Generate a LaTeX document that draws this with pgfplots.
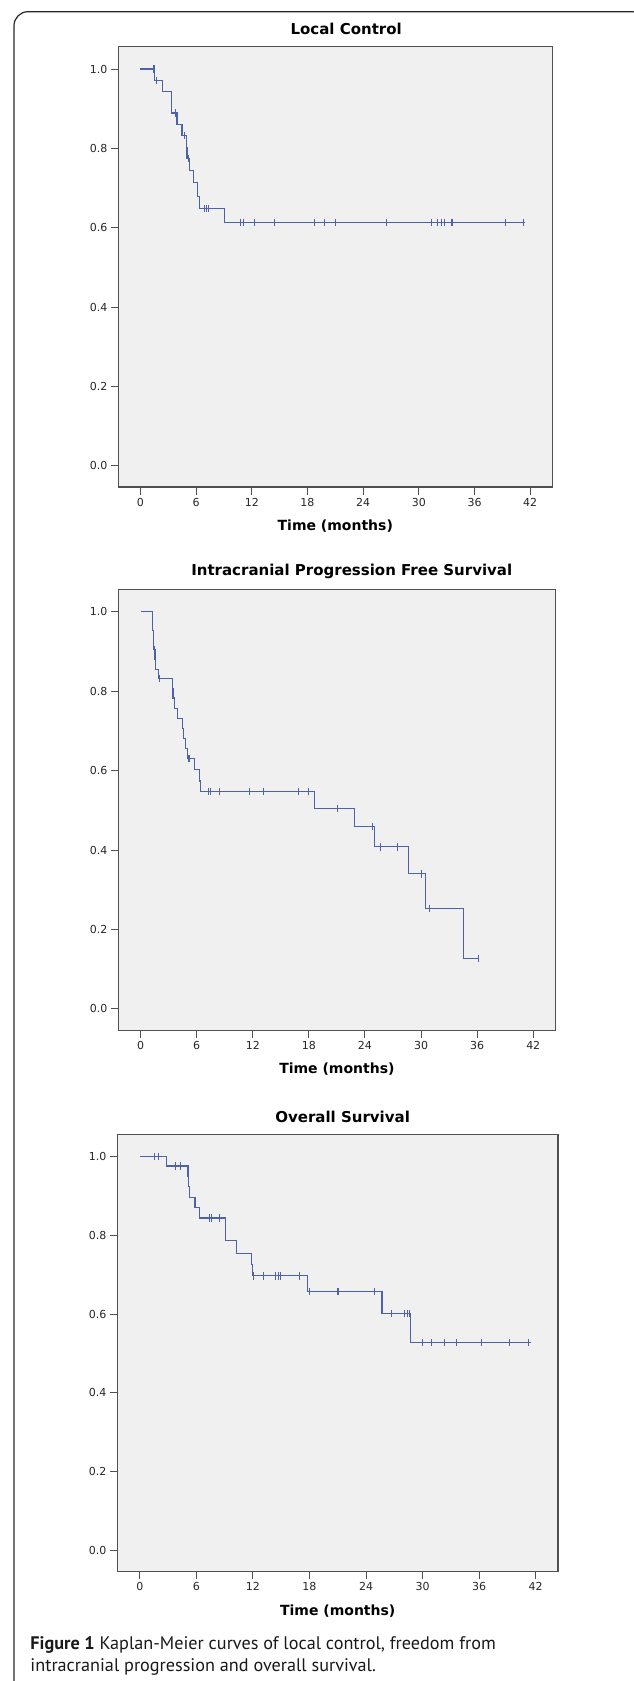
\documentclass[border=0pt]{standalone}
\usepackage{fontspec}
\setmainfont{DejaVu Sans}
\newfontfamily\capfont{PT Sans}
\usepackage{pgfplots}
\pgfplotsset{compat=1.18}
\definecolor{kmblue}{RGB}{78,98,172}
\definecolor{axbg}{RGB}{240,240,240}
\definecolor{axline}{RGB}{80,80,80}
\pgfplotsset{
  kmaxis/.style={
    scale only axis,
    anchor=south west,
    axis background/.style={fill=axbg},
    axis line style={axline, line width=1.3pt},
    xmin=-2.38, xmax=44.38, ymin=-0.054, ymax=1.056,
    xtick={0,6,12,18,24,30,36,42},
    ytick={0,0.2,0.4,0.6,0.8,1.0},
    xtick pos=bottom, ytick pos=left,
    tick align=outside,
    major tick length=7.5pt,
    tick style={axline, line width=1pt},
    /pgf/number format/assume math mode=true,
    tick label style={font=\fontsize{11}{13}\selectfont, text=black!85},
    yticklabel style={/pgf/number format/.cd, fixed, fixed zerofill, precision=1},
    xticklabel style={/pgf/number format/.cd, fixed, precision=0},
    xlabel={Time (months)},
    xlabel style={font=\bfseries\fontsize{14}{16}\selectfont, at={(axis description cs:0.5,0)}, anchor=center, yshift=-39pt},
    title style={font=\bfseries\fontsize{15}{17}\selectfont, anchor=center, yshift=12pt},
  },
  kmline/.style={kmblue, line width=1.1pt, const plot, mark=none},
  kmcens/.style={kmblue, only marks, mark=|, mark size=3.6pt, mark options={line width=0.9pt}},
}
\begin{document}
\begin{tikzpicture}
\useasboundingbox (0pt,0pt) rectangle (633pt,-1681pt);
\draw[line width=1.2pt, black!85, rounded corners=14pt] (14pt,-11.7pt) rectangle (646pt,-1720pt);

% Panel 1: Local Control
\begin{axis}[kmaxis, at={(118.3pt,-487.1pt)}, width=434pt, height=440.3pt,
  title={Local Control}, title style={at={(axis description cs:0.525,1)}}]
\addplot[kmline] coordinates {
(0,1) (1.5,0.972) (2.43,0.944) (3.37,0.889) (3.94,0.860) (4.48,0.832)
(4.94,0.803) (5.02,0.774) (5.30,0.744) (5.70,0.713) (6.16,0.679) (6.38,0.648)
(9.07,0.613) (41.4,0.613)};
\addplot[kmcens] coordinates {
(1.42,1) (1.47,1) (1.71,0.972) (3.83,0.889) (4.73,0.832) (5.16,0.774)
(6.88,0.648) (7.10,0.648) (7.35,0.648)
(10.76,0.613) (11.11,0.613) (12.30,0.613) (14.49,0.613) (18.80,0.613)
(19.84,0.613) (21.06,0.613) (26.56,0.613) (31.40,0.613) (31.97,0.613)
(32.40,0.613) (32.72,0.613) (33.55,0.613) (33.63,0.613) (39.33,0.613) (41.27,0.613)};
\end{axis}

% Panel 2: Intracranial Progression Free Survival
\begin{axis}[kmaxis, at={(118.3pt,-1030.4pt)}, width=437.2pt, height=440.8pt,
  title={Intracranial Progression Free Survival}, title style={at={(axis description cs:0.534,1)}}]
\addplot[kmline] coordinates {
(0,1) (1.25,0.976) (1.32,0.952) (1.38,0.929) (1.42,0.905) (1.55,0.880)
(1.62,0.855) (1.90,0.832) (3.42,0.807) (3.47,0.783) (3.62,0.756) (3.96,0.731)
(4.50,0.706) (4.63,0.681) (4.85,0.655) (4.99,0.630) (5.74,0.603) (6.34,0.574)
(6.44,0.548) (18.62,0.504) (22.93,0.459) (25.0,0.408) (28.63,0.340)
(30.51,0.2535) (34.53,0.127) (36.2,0.127)};
\addplot[kmcens] coordinates {
(1.45,0.905) (2.06,0.832) (5.10,0.630) (5.25,0.630)
(7.30,0.548) (7.51,0.548) (8.48,0.548) (11.61,0.548) (13.18,0.548)
(16.88,0.548) (17.95,0.548) (21.1,0.504) (24.78,0.459) (25.70,0.408)
(27.45,0.408) (30.01,0.340) (30.94,0.2535) (36.17,0.127)};
\end{axis}

% Panel 3: Overall Survival
\begin{axis}[kmaxis, at={(117.5pt,-1571.7pt)}, width=440.5pt, height=437.2pt,
  title={Overall Survival}, title style={at={(axis description cs:0.511,1)}}]
\addplot[kmline] coordinates {
(0,1) (2.86,0.976) (5.10,0.950) (5.20,0.923) (5.30,0.895) (5.85,0.870)
(6.31,0.844) (9.09,0.786) (10.26,0.755) (11.81,0.727) (11.99,0.697)
(17.78,0.657) (25.7,0.601) (28.70,0.527) (41.5,0.527)};
\addplot[kmcens] coordinates {
(1.51,1) (1.99,1) (3.73,0.976) (4.34,0.976) (7.39,0.844) (7.56,0.844)
(8.48,0.844) (12.03,0.697) (13.16,0.697) (14.43,0.697) (14.74,0.697)
(14.96,0.697) (16.98,0.697) (18.01,0.657) (20.95,0.657) (21.08,0.657)
(24.85,0.657) (26.68,0.601) (28.06,0.601) (28.39,0.601) (28.60,0.601)
(29.99,0.527) (30.94,0.527) (32.34,0.527) (33.55,0.527) (36.21,0.527)
(39.26,0.527) (41.23,0.527)};
\end{axis}

\node[anchor=base west, inner sep=0pt, text=black!90] at (30.3pt,-1649.3pt)
  {\capfont\fontsize{18.2}{22}\selectfont\textbf{Figure 1} Kaplan-Meier curves of local control, freedom from};
\node[anchor=base west, inner sep=0pt, text=black!90] at (30.3pt,-1671.7pt)
  {\capfont\fontsize{18.2}{22}\selectfont intracranial progression and overall survival.};
\end{tikzpicture}
\end{document}
